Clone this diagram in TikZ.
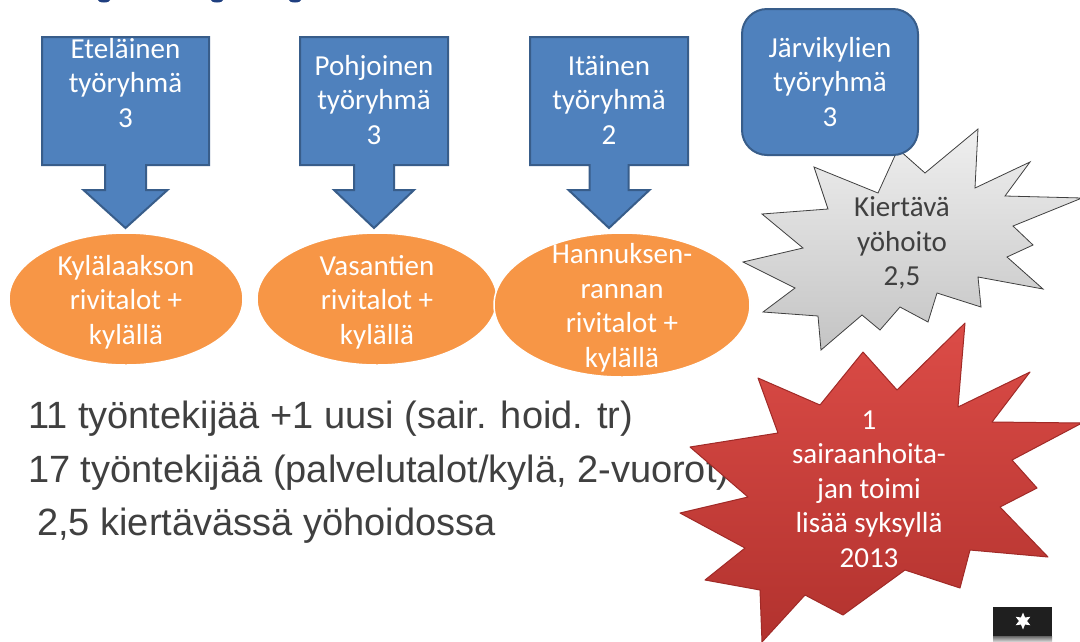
\documentclass[tikz,border=0pt]{standalone}
\usepackage{fontspec}
\setmainfont{Carlito}
\newfontfamily\arialf{Liberation Sans}
\usetikzlibrary{shapes.geometric}
\definecolor{boxblue}{HTML}{4F81BD}
\definecolor{boxedge}{HTML}{385D8A}
\definecolor{orng}{HTML}{F79646}
\definecolor{txtgrey}{HTML}{404040}
\definecolor{redA}{HTML}{DC4C47}
\definecolor{redB}{HTML}{B2322E}
\definecolor{redEdge}{HTML}{A02A27}
\definecolor{greyA}{HTML}{EFEFEF}
\definecolor{greyB}{HTML}{C4C4C4}
\definecolor{titleblue}{HTML}{1F3F80}
\newcommand\calloutpath[6]{% cx, half width, stem half width, head half width, name, text y
  \path[calloutbox] (#1-#2,37) -- (#1+#2,37) -- (#1+#2,165) -- (#1+#3,165) -- (#1+#3,190) -- (#1+#4,190) -- (#1,228) -- (#1-#4,190) -- (#1-#3,190) -- (#1-#3,165) -- (#1-#2,165) -- cycle;
  \node[boxtext] (#5) at (#1,#6) {\csname lbl#5\endcsname};}
\newcommand\lblbA{Eteläinen\\työryhmä\\3}
\newcommand\lblbB{Pohjoinen\\työryhmä\\3}
\newcommand\lblbC{Itäinen\\työryhmä\\2}
\begin{document}
\begin{tikzpicture}[x=1pt,y=-1pt,
  calloutbox/.style={fill=boxblue,draw=boxedge,line width=2pt,line join=miter},
  boxtext/.style={text=white,align=center,inner sep=0pt,font=\fontsize{29}{34.5}\selectfont},
  ovaltext/.style={text=white,align=center,inner sep=0pt,font=\fontsize{29}{34.5}\selectfont},
  oval/.style={ellipse,fill=orng,draw=white,line width=1.5pt,inner sep=0pt},
  bodytext/.style={text=txtgrey,anchor=base west,inner sep=0pt,font=\arialf\fontsize{38}{44}\selectfont}]
\useasboundingbox (0,0) rectangle (1080,641);
\fill[white] (0,0) rectangle (1080,641);
% fragments of the cut-off title
\fill[titleblue] (104,0) ellipse [x radius=6, y radius=2.5];
\fill[titleblue] (217,0) ellipse [x radius=6, y radius=2.5];
\fill[titleblue] (295,0) ellipse [x radius=6, y radius=2.5];
% down-arrow callouts
\calloutpath{125.5}{83.5}{20.5}{42}{bA}{83}
\calloutpath{374}{74}{20}{40}{bB}{100}
\calloutpath{609}{79}{19.5}{40.5}{bC}{100}
% grey explosion
\path[draw=txtgrey,line width=0.8pt,top color=greyA,bottom color=greyB]
 (978,129) -- (975,188) -- (1030,162) -- (1005,196) -- (1082,198) -- (1013,226) -- (1033,245) -- (1007,257) -- (1043,289) -- (978,277) -- (981,307) -- (937,293) -- (928,322) -- (900,307) -- (880,330) -- (862,315) -- (821,350) -- (818,316) -- (763,312) -- (795,288) -- (743,262) -- (803,248) -- (762,214) -- (828,209) -- (814,167) -- (878,193) -- (898,149) -- (925,173) -- cycle;
\node[boxtext,text=txtgrey] (kier) at (902,243) {Kiertävä\\yöhoito\\2,5};
% rounded box
\path[fill=boxblue,draw=boxedge,line width=2pt,rounded corners=25pt] (742,9) rectangle (918,155);
\node[boxtext] (jarvi) at (830,82) {Järvikylien\\työryhmä\\3};
% ovals
\node[oval,minimum width=234pt,minimum height=132pt] (e1) at (126,299) {};
\node[oval,minimum width=240pt,minimum height=132pt] (e2) at (377,299) {};
\node[oval,minimum width=256pt,minimum height=144pt] (e3) at (622,305) {};
\node[ovaltext] (t1) at (126,302) {Kylälaakson\\rivitalot +\\kylällä};
\node[ovaltext] (t2) at (377,302) {Vasantien\\rivitalot +\\kylällä};
\node[ovaltext] (t3) at (622,308) {Hannuksen-\\rannan\\rivitalot +\\kylällä};
% body text
\node[bodytext] (l1) at (28,428) {11 työntekijää +1 uusi (sair. hoid. tr)};
\node[bodytext] (l2) at (28,482) {17 työntekijää (palvelutalot/kylä, 2-vuorot)};
\node[bodytext] (l3) at (37,535) {2,5 kiertävässä yöhoidossa};
% red explosion
\path[draw=redEdge,line width=1pt,line join=round,top color=redA,bottom color=redB]
 (965,323) -- (958,407) -- (1030,372) -- (992,422) -- (1082,423) -- (1012,460) -- (1037,488) -- (1000,507) -- (1048,557) -- (970,550) -- (960,588) -- (905,570) -- (843,615) -- (805,595) -- (762,642) -- (760,590) -- (705,580) -- (745,548) -- (680,513) -- (748,497) -- (690,447) -- (778,433) -- (758,378) -- (820,405) -- (863,352) -- (897,390) -- cycle;
\node[boxtext] (sair) at (869,489) {1\\sairaanhoita-\\jan toimi\\lisää syksyllä\\2013};
% logo
\fill[black!88] (993,607) rectangle (1052,641);
\shade[top color=black!60,bottom color=white!80!black] (993,636) rectangle (1052,641);
\node[star,star points=6,star point ratio=2.1,fill=white,minimum size=17pt,inner sep=0pt] (logostar) at (1023,621) {};
\end{tikzpicture}
\end{document}
